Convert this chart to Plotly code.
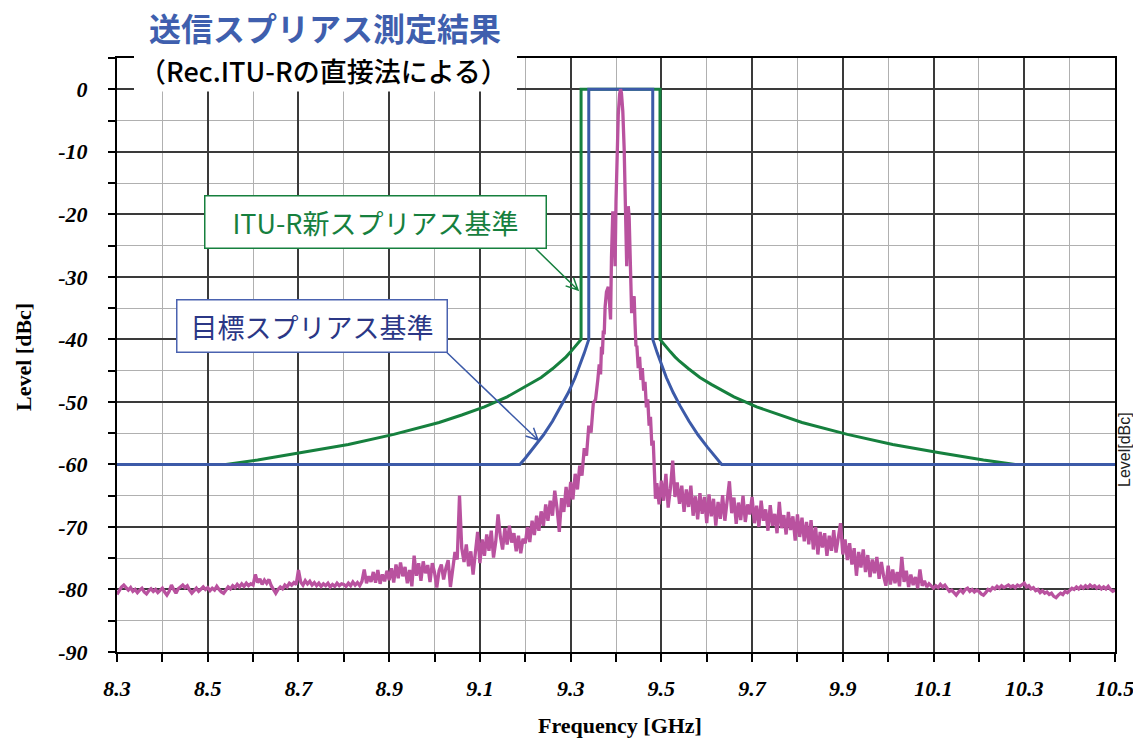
import numpy as np
import plotly.graph_objects as go

# ---------------- measured spectrum [dBc] ----------------
# lower skirt: 8.300 - 9.360 GHz on a 5 MHz grid
spec_step = 0.005
spec_low_start = 8.300
spec_low_db = [
    -80.8, -80.2, -79.6, -79.3, -79.8, -80.1, -79.7, -80.3, -80.0, -80.5, -80.1, -79.8, -80.4, -80.7, -80.2, -79.9, -80.3, -80.0, -80.5, -80.1,
    -79.8, -80.4, -80.9, -80.3, -79.3, -80.0, -80.6, -79.9, -79.6, -79.3, -79.7, -79.4, -80.1, -80.6, -80.2, -79.8, -80.3, -79.9, -79.6, -80.0,
    -79.7, -80.2, -79.8, -80.1, -79.5, -80.0, -80.4, -80.6, -80.0, -79.6, -79.9, -79.4, -79.7, -79.2, -79.6, -79.1, -79.5, -79.0, -79.4, -79.1,
    -79.3, -77.6, -78.9, -78.3, -79.2, -78.5, -79.0, -78.4, -79.4, -80.1, -80.6, -80.0, -79.6, -79.9, -79.3, -79.6, -79.0, -79.3, -78.9, -79.2,
    -76.9, -78.8, -79.3, -78.6, -79.1, -78.7, -79.3, -78.9, -79.4, -79.0, -79.5, -79.1, -79.4, -79.0, -79.6, -79.2, -79.5, -79.0, -79.4, -79.1,
    -79.2, -79.5, -79.0, -79.4, -78.8, -79.3, -78.9, -79.4, -78.7, -76.8, -79.0, -77.9, -78.8, -77.2, -78.9, -76.9, -79.1, -77.6, -78.7, -77.0,
    -78.5, -76.6, -78.9, -76.0, -78.2, -75.7, -77.9, -76.4, -79.0, -76.9, -79.5, -74.6, -77.8, -75.8, -78.6, -75.5, -77.4, -76.1, -78.8, -75.8,
    -77.3, -79.7, -77.0, -76.0, -78.4, -76.6, -75.3, -79.6, -76.2, -74.0, -75.2, -65.0, -73.4, -75.6, -72.8, -76.3, -73.9, -77.6, -74.1, -70.8,
    -75.8, -72.0, -74.6, -71.2, -73.8, -70.6, -74.9, -72.3, -68.0, -71.5, -73.6, -70.2, -72.8, -69.8, -72.5, -71.0, -73.9, -71.4, -74.2, -71.9,
    -72.6, -70.0, -72.4, -69.0, -71.3, -68.2, -70.6, -67.5, -69.8, -66.4, -69.0, -65.8, -68.2, -64.2, -67.0, -70.8, -65.4, -67.6, -63.6, -66.8,
    -62.8, -65.6, -61.5, -64.0, -60.2, -61.8, -57.4, -58.6, -53.8, -54.9, -50.2, -49.6, -46.4,
]

# carrier and close-in sidelobes
spec_core_ghz = [
    9.363, 9.366, 9.368, 9.370, 9.372, 9.374, 9.376, 9.379, 9.383, 9.386,
    9.388, 9.390, 9.393, 9.395, 9.397, 9.398, 9.400, 9.402, 9.405, 9.408,
    9.410, 9.412, 9.415, 9.418, 9.421, 9.4236, 9.425, 9.427, 9.429, 9.431,
    9.4345, 9.437, 9.440, 9.442, 9.444, 9.446, 9.449, 9.452, 9.455, 9.458,
    9.461, 9.464, 9.467, 9.470, 9.473, 9.476, 9.479, 9.482, 9.485, 9.487,
]
spec_core_db = [
    -44.0, -45.6, -41.2, -42.4, -38.6, -39.2, -34.8, -32.4, -31.6, -34.5,
    -36.8, -27.0, -19.5, -21.0, -26.5, -28.3, -18.0, -10.0, -4.0, -0.8,
    0.0, -0.6, -3.5, -9.5, -18.5, -28.3, -24.0, -18.7, -20.5, -27.0,
    -35.8, -34.0, -33.1, -37.5, -41.1, -41.0, -44.6, -42.8, -46.5, -44.6,
    -48.2, -46.8, -50.9, -49.6, -53.8, -52.4, -57.0, -56.2, -61.8, -65.5,
]

# upper skirt: 9.490 - 10.500 GHz on a 5 MHz grid
spec_high_start = 9.490
spec_high_db = [
    -63.0, -66.4,
    -62.6, -65.8, -61.5, -66.9, -63.8, -59.4, -65.2, -62.9, -66.3, -63.4, -67.6, -64.0, -66.8, -63.4, -68.2, -65.1, -68.8, -64.6, -67.9, -65.2,
    -69.4, -64.8, -68.3, -65.5, -69.8, -66.0, -68.7, -64.9, -69.0, -66.2, -62.7, -67.8, -65.3, -69.5, -66.1, -68.9, -65.0, -69.2, -66.4, -68.0,
    -65.2, -69.4, -66.6, -70.0, -65.8, -69.0, -67.2, -70.6, -66.5, -69.8, -67.9, -71.0, -66.0, -70.2, -68.1, -71.2, -67.6, -70.5, -68.3, -72.2,
    -68.0, -71.6, -68.5, -72.3, -69.2, -72.8, -68.9, -73.6, -70.0, -74.4, -70.8, -73.3, -71.0, -74.6, -71.4, -73.8, -70.5, -74.1, -72.0, -69.4,
    -74.4, -72.0, -75.3, -72.6, -76.0, -73.4, -77.8, -74.0, -76.5, -73.6, -77.2, -74.5, -78.0, -75.2, -77.4, -74.8, -78.3, -75.6, -77.9, -79.4,
    -76.2, -79.2, -76.8, -79.0, -77.2, -79.5, -74.8, -78.8, -77.0, -79.6, -77.6, -79.3, -78.0, -79.8, -76.8, -79.4, -78.6, -79.6, -79.1, -79.5,
    -79.8, -79.4, -79.7, -79.2, -79.6, -79.3, -79.9, -80.3, -80.1, -80.6, -80.9, -80.4, -80.1, -80.5, -80.0, -79.8, -80.3, -80.0, -80.4, -80.1,
    -80.3, -80.7, -80.9, -80.5, -80.0, -80.2, -79.7, -79.9, -79.5, -79.8, -79.4, -79.7, -79.5, -79.3, -79.6, -79.4, -79.7, -79.3, -79.5, -79.2,
    -79.0, -79.6, -79.4, -79.9, -79.7, -80.2, -80.0, -80.5, -80.2, -80.6, -80.4, -80.8, -80.6, -81.1, -81.3, -80.9, -80.6, -80.8, -80.3, -80.5,
    -80.1, -79.8, -80.0, -79.6, -79.9, -79.5, -79.8, -79.4, -79.7, -79.3, -79.6, -79.4, -79.8, -79.5, -79.9, -79.6, -79.9, -79.5, -80.0, -80.3, -80.1,
]

# ---------------- spurious masks [dBc] ----------------
itu_ghz = [8.30, 8.54, 8.61, 8.71, 8.81, 8.91, 9.01, 9.06, 9.11, 9.16, 9.21, 9.235, 9.26, 9.28,
           9.29, 9.30, 9.31, 9.323, 9.323, 9.497, 9.497, 9.51, 9.52, 9.53, 9.54, 9.56, 9.585,
           9.61, 9.66, 9.71, 9.76, 9.81, 9.91, 10.01, 10.11, 10.21, 10.28, 10.50]
itu_db = [-60, -60, -59.3, -58.1, -56.8, -55.2, -53.3, -52.1, -50.8, -49.2, -47.2, -46.1, -44.7, -43.5,
          -42.8, -42.0, -41.2, -40, 0, 0, -40, -41.2, -42.0, -42.8, -43.5, -44.7, -46.1,
          -47.2, -49.2, -50.8, -52.1, -53.3, -55.2, -56.8, -58.1, -59.3, -60, -60]

target_ghz = [8.30, 9.188, 9.200, 9.220, 9.240, 9.260, 9.280, 9.295, 9.310, 9.320, 9.330, 9.340,
              9.340, 9.481, 9.481, 9.491, 9.501, 9.511, 9.526, 9.541, 9.561, 9.581, 9.601,
              9.621, 9.633, 10.50]
target_db = [-60, -60, -59.0, -57.2, -55.3, -53.1, -50.6, -48.5, -46.1, -44.2, -42.2, -40,
             0, 0, -40, -42.2, -44.2, -46.1, -48.5, -50.6, -53.1, -55.3, -57.2,
             -59.0, -60, -60]

# ---------------- axis ticks ----------------
x_tick_vals = [8.3, 8.5, 8.7, 8.9, 9.1, 9.3, 9.5, 9.7, 9.9, 10.1, 10.3, 10.5]
x_tick_text = ["8.3", "8.5", "8.7", "8.9", "9.1", "9.3", "9.5", "9.7", "9.9", "10.1", "10.3", "10.5"]
x_minor_vals = [8.4, 8.6, 8.8, 9.0, 9.2, 9.4, 9.6, 9.8, 10.0, 10.2, 10.4]
y_tick_vals = [0, -10, -20, -30, -40, -50, -60, -70, -80, -90]
y_tick_text = ["0", "-10", "-20", "-30", "-40", "-50", "-60", "-70", "-80", "-90"]
y_minor_vals = [5, -5, -15, -25, -35, -45, -55, -65, -75, -85]

X_RANGE = [8.3, 10.5]
Y_RANGE = [-90, 5]

# ---------------- styles ----------------
GREEN = "#16803e"
BLUE = "#3c5aa8"
MAGENTA = "#b9529f"
NAVY = "#2b3786"
MAJOR_GRID = "#3a3a3a"
MINOR_GRID = "#b0b0b0"
SERIF = "Liberation Serif, Times New Roman, serif"
JP = "Noto Sans CJK JP, sans-serif"

W, H = 1133, 738
M_L, M_R, M_T, M_B = 117, 18, 58, 86
PLOT_W = W - M_L - M_R
PLOT_H = H - M_T - M_B
PX_PER_GHZ = PLOT_W / (X_RANGE[1] - X_RANGE[0])
PX_PER_DB = PLOT_H / (Y_RANGE[1] - Y_RANGE[0])


def paper_x(px):
    return (px - M_L) / PLOT_W


def paper_y(py):
    return (H - M_B - py) / PLOT_H


def arrow_path(x0, y0, x1, y1, size=13, spread=np.radians(26)):
    """Line from (x0, y0) to (x1, y1) in data units with an open V head at the end."""
    ang = np.arctan2((y1 - y0) * PX_PER_DB, (x1 - x0) * PX_PER_GHZ)
    arms = []
    for s in (spread, -spread):
        a = ang + np.pi + s
        arms.append((x1 + size * np.cos(a) / PX_PER_GHZ, y1 + size * np.sin(a) / PX_PER_DB))
    return (f"M{x0},{y0} L{x1},{y1} "
            f"M{arms[0][0]},{arms[0][1]} L{x1},{y1} L{arms[1][0]},{arms[1][1]}")


spec_low_ghz = spec_low_start + spec_step * np.arange(len(spec_low_db))
spec_high_ghz = spec_high_start + spec_step * np.arange(len(spec_high_db))
spec_ghz = np.concatenate([spec_low_ghz, spec_core_ghz, spec_high_ghz])
spec_db = np.concatenate([spec_low_db, spec_core_db, spec_high_db])

fig = go.Figure()
fig.add_trace(go.Scatter(x=itu_ghz, y=itu_db, mode="lines",
                         line=dict(color=GREEN, width=3), name="ITU-R", showlegend=False))
fig.add_trace(go.Scatter(x=target_ghz, y=target_db, mode="lines",
                         line=dict(color=BLUE, width=3), name="target", showlegend=False))
fig.add_trace(go.Scatter(x=spec_ghz, y=spec_db, mode="lines",
                         line=dict(color=MAGENTA, width=3.3), name="measured", showlegend=False))

tick_font = dict(family=SERIF, size=22, color="black", weight="bold", style="italic")

fig.update_xaxes(
    range=X_RANGE, tickmode="array", tickvals=x_tick_vals, ticktext=x_tick_text,
    ticks="outside", ticklen=8, tickwidth=1.5, tickcolor="black",
    tickfont=tick_font, ticklabelstandoff=8, ticklabeloverflow="allow",
    showgrid=True, gridcolor=MAJOR_GRID, gridwidth=1.6,
    minor=dict(tickmode="array", tickvals=x_minor_vals, ticks="outside", ticklen=8,
               tickwidth=1.5, tickcolor="black", showgrid=True,
               gridcolor=MINOR_GRID, gridwidth=1.4),
    showline=True, linecolor="black", linewidth=2, mirror=True, zeroline=False,
)
fig.update_yaxes(
    range=Y_RANGE, tickmode="array", tickvals=y_tick_vals, ticktext=y_tick_text,
    ticks="outside", ticklen=7, tickwidth=1.5, tickcolor="black",
    tickfont=tick_font, ticklabelstandoff=16, ticklabeloverflow="allow",
    showgrid=True, gridcolor=MAJOR_GRID, gridwidth=1.6,
    minor=dict(tickmode="array", tickvals=y_minor_vals, ticks="outside", ticklen=7,
               tickwidth=1.5, tickcolor="black", showgrid=True,
               gridcolor=MINOR_GRID, gridwidth=1.4),
    showline=True, linecolor="black", linewidth=2, mirror=True, zeroline=False,
)

shapes = [
    # blank panel behind the heading
    dict(type="rect", xref="paper", yref="paper", layer="above",
         x0=paper_x(134), x1=paper_x(517), y0=paper_y(91.5), y1=paper_y(40),
         fillcolor="white", line=dict(width=0)),
    # callout arrows
    dict(type="path", xref="x", yref="y", layer="above",
         path=arrow_path(9.2214, -25.4, 9.3162, -32.1), line=dict(color=GREEN, width=1.5)),
    dict(type="path", xref="x", yref="y", layer="above",
         path=arrow_path(9.0186, -41.5, 9.2281, -56.1), line=dict(color=BLUE, width=1.5)),
]

annotations = [
    dict(text="<b>送信スプリアス測定結果</b>", xref="paper", yref="paper",
         x=paper_x(325), y=paper_y(27), showarrow=False, xanchor="center", yanchor="middle",
         font=dict(family=JP, size=32, color="#3f5fae")),
    dict(text="（Rec.ITU-Rの直接法による）", xref="paper", yref="paper",
         x=paper_x(323), y=paper_y(71), showarrow=False, xanchor="center", yanchor="middle",
         font=dict(family=JP, size=27, color="black", weight=500)),
    dict(text="ITU-R新スプリアス基準", xref="paper", yref="paper",
         x=paper_x(375), y=paper_y(221.5), showarrow=False, xanchor="center", yanchor="middle",
         width=340, height=51, borderpad=0, bgcolor="white", bordercolor=GREEN, borderwidth=1.5,
         font=dict(family=JP, size=27, color=GREEN)),
    dict(text="目標スプリアス基準", xref="paper", yref="paper",
         x=paper_x(312), y=paper_y(325.5), showarrow=False, xanchor="center", yanchor="middle",
         width=269, height=51, borderpad=0, bgcolor="white", bordercolor="#4a62b0", borderwidth=1.5,
         font=dict(family=JP, size=27, color=NAVY)),
    dict(text="<b>Frequency [GHz]</b>", xref="paper", yref="paper",
         x=paper_x(620), y=paper_y(725), showarrow=False, xanchor="center", yanchor="middle",
         font=dict(family=SERIF, size=22, color="black")),
    dict(text="<b>Level [dBc]</b>", xref="paper", yref="paper", textangle=-90,
         x=paper_x(23), y=paper_y(357), showarrow=False, xanchor="center", yanchor="middle",
         font=dict(family=SERIF, size=22, color="black")),
    dict(text="Level[dBc]", xref="paper", yref="paper", textangle=-90,
         x=paper_x(1124), y=paper_y(450), showarrow=False, xanchor="center", yanchor="middle",
         font=dict(family="Liberation Sans, Arial, sans-serif", size=16, color="#222222")),
]

fig.update_layout(
    width=W, height=H,
    margin=dict(l=M_L, r=M_R, t=M_T, b=M_B, autoexpand=False),
    plot_bgcolor="white", paper_bgcolor="white",
    showlegend=False,
    shapes=shapes, annotations=annotations,
)

fig.write_html("out.html")
